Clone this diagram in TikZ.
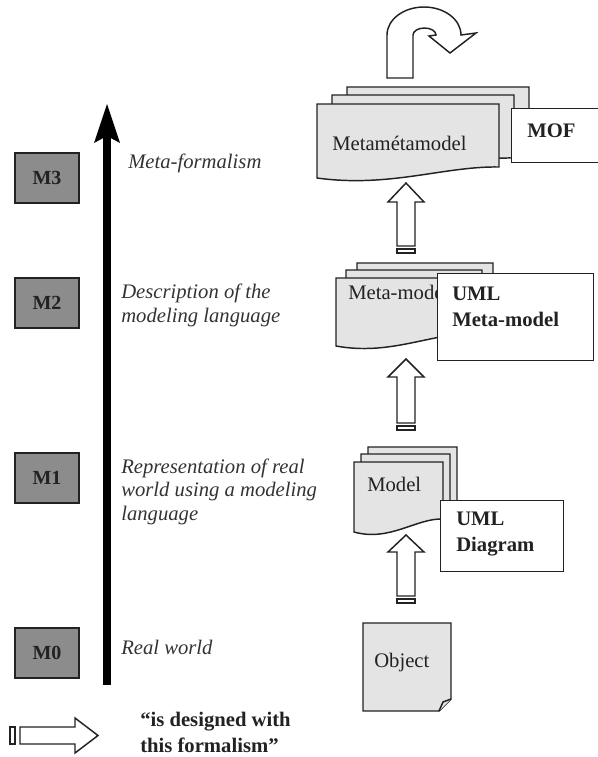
\documentclass[tikz,border=0pt]{standalone}
\usepackage{fontspec}
\setmainfont{Liberation Serif}
\usetikzlibrary{calc}
\definecolor{mboxfill}{HTML}{8C8C8C}
\definecolor{docfill}{HTML}{E4E4E4}
\definecolor{ink}{HTML}{222222}
\definecolor{soft}{HTML}{333333}

% wavy-bottom document: [opts]{x0}{top}{x1}{y bottom-left}{y bottom-right}
\newcommand{\docshape}[6][]{%
  \draw[docline,#1] (#2,#3) -- (#4,#3) -- (#4,#6)
    .. controls ({#4-0.3*(#4-#2)},{#6-1}) and ({#2+0.4*(#4-#2)},{#5+10}) .. (#2,#5) -- cycle;}

% hollow upward arrow: {x centre}{tip y}{head base y}{shaft end y}
\newcommand{\hollowup}[4]{%
  \draw[hollow] (#1,#2) -- ({#1+18},#3) -- ({#1+9},#3) -- ({#1+9},#4)
    -- ({#1-9},#4) -- ({#1-9},#3) -- ({#1-18},#3) -- cycle;
  \draw[hollow] ({#1-9},{#4+3}) rectangle ({#1+9},{#4+7});}

\tikzset{
  docline/.style={draw=ink, line width=1.1pt, fill=docfill, line join=miter},
  hollow/.style={draw=ink, line width=1.1pt, fill=white},
  level/.style={draw=ink, line width=1.1pt, fill=mboxfill, minimum width=48pt,
    minimum height=37.5pt, inner sep=0pt, font=\fontsize{15}{18}\selectfont\bfseries, text=ink},
  desc/.style={font=\fontsize{15.5}{17.6}\selectfont\itshape, text=soft, align=left,
    inner sep=0pt, anchor=base west},
  doctext/.style={font=\fontsize{15.5}{18}\selectfont, text=ink, inner sep=0pt, anchor=base west},
  tagbox/.style={draw=ink, line width=1.1pt, fill=white, inner sep=0pt, anchor=north west},
  tagtext/.style={font=\fontsize{15.5}{18.8}\selectfont\bfseries, text=ink, align=left,
    inner sep=0pt, anchor=base west},
}

\begin{document}
\begin{tikzpicture}[x=0.75pt,y=-0.75pt]
\useasboundingbox (0,0) rectangle (598,757);

% ---- level boxes
\node[level] (m3) at (47,178) {M3};
\node[level] (m2) at (47,303) {M2};
\node[level] (m1) at (47,478) {M1};
\node[level] (m0) at (47,653) {M0};

% ---- abstraction axis
\coordinate (axisbot) at (107,685);
\coordinate (axistip) at (107,104);
\fill[black] ($(axisbot)+(-4,0)$) rectangle ($(axistip)+(4,32)$);
\fill[black] (axistip) -- ++(13,39) -- ++(-13,-7) -- ++(-13,7) -- cycle;

% ---- level descriptions (multi-line nodes sit on their last baseline)
\node[desc] (d3) at (128,168) {Meta-formalism};
\node[desc] (d2) at (121,322) {Description of the\\modeling language};
\node[desc] (d1) at (121,520) {Representation of real\\world using a modeling\\language};
\node[desc] (d0) at (121,654) {Real world};

% ---- M3: metametamodel stack
\docshape{347}{87}{529}{161}{150}
\docshape{332}{95}{514}{169}{158}
\docshape{317}{104}{499}{178}{167}
\node[doctext] (mmm) at (332,150) {Metamétamodel};
\node[tagbox, minimum width=65.25pt, minimum height=40.5pt] (mof) at (511,108) {};
\node[tagtext] at (527,137) {MOF};

% self-describing U-turn arrow
\draw[hollow] (387,78) -- (387,35)
  arc[start angle=180, end angle=360, x radius=37, y radius=28]
  -- (476,33) -- (450,53) -- (429,36) -- (436,35)
  arc[start angle=360, end angle=180, x radius=11.5, y radius=7]
  -- (413,78) -- cycle;

% ---- M2: metamodel stack
\docshape{357}{263}{493}{331}{319}
\docshape{346}{270}{482}{338}{326}
\docshape{336}{278}{472}{346}{334}
\node[doctext] (mm) at (348,299) {Meta-model};
\node[tagbox, minimum width=117pt, minimum height=65.25pt] (umlmm) at (437,273) {};
\node[tagtext] at (452,326) {UML\\Meta-model};

% ---- M1: model stack
\docshape{368}{447}{457}{517}{504}
\docshape{361}{454}{450}{524}{511}
\docshape{354}{462}{443}{532}{519}
\node[doctext] (model) at (367,491) {Model};
\node[tagbox, minimum width=92.25pt, minimum height=53.25pt] (umld) at (440,500) {};
\node[tagtext] at (456,551) {UML\\Diagram};

% ---- M0: object sheet with folded corner
\draw[docline] (363,623) -- (451,623) -- (451,699) -- (439,711) -- (363,711) -- cycle;
\draw[docline] (451,699) -- (443,702) -- (439,711);
\node[doctext] (obj) at (374,667) {Object};

% ---- "is designed with" arrows between levels
\hollowup{406}{535}{552}{596}
\hollowup{406}{359}{377}{423}
\hollowup{406}{183}{202}{246}

% ---- legend
\draw[hollow] (98,735.5) -- (75,753) -- (75,744) -- (20,744) -- (20,727) -- (75,727) -- (75,718) -- cycle;
\draw[hollow] (10,727) rectangle (15,744);
\node[tagtext, align=left] (legend) at (140,752) {“is designed with\\this formalism”};
\end{tikzpicture}
\end{document}
